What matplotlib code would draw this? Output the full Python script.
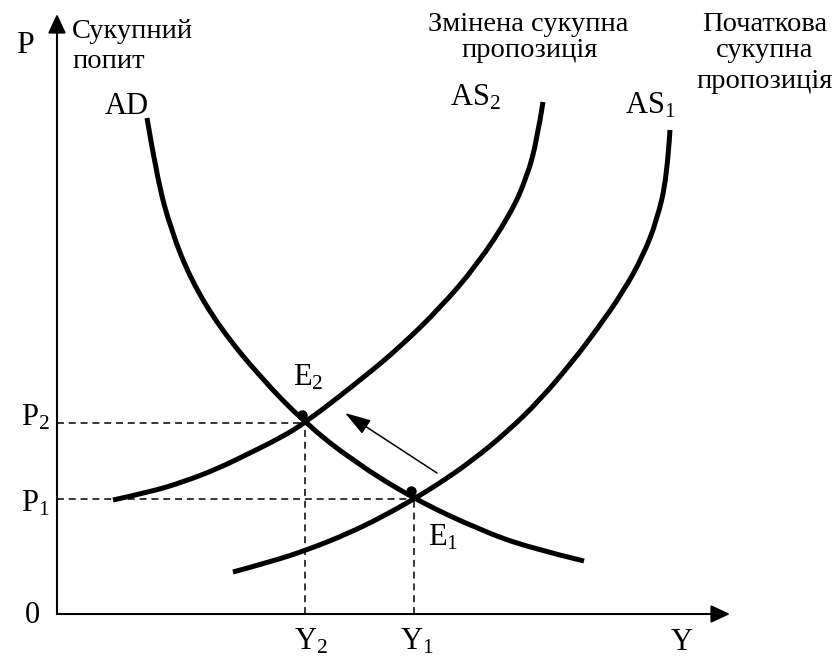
"""AD-AS diagram: a shift of aggregate supply to the left."""

import matplotlib.pyplot as plt
from matplotlib.patches import PathPatch
from matplotlib.path import Path
from matplotlib.transforms import ScaledTranslation

plt.rcParams["font.family"] = ["Liberation Serif", "DejaVu Serif"]
plt.rcParams["mathtext.fontset"] = "custom"
plt.rcParams["mathtext.rm"] = "Liberation Serif"
plt.rcParams["mathtext.it"] = "Liberation Serif:italic"
plt.rcParams["lines.scale_dashes"] = False

# curve points (output Y, price level P)
ad_y = [90, 100, 114, 134, 163, 204, 248, 296, 357, 423, 473, 527]
ad_p = [496, 436, 384, 334, 286, 236, 191, 153, 115, 84, 66, 53]

as2_y = [56, 93, 126, 160, 193, 223, 248, 306, 343, 383, 420, 453, 470, 480, 486]
as2_p = [114, 122, 132, 145, 161, 176, 191, 236, 267, 306, 349, 399, 437, 474, 512]

as1_y = [176, 213, 250, 290, 323, 357, 383, 416, 450, 483, 516, 541, 566, 586, 600, 610, 613]
as1_p = [42, 52, 64, 80, 96, 115, 131, 154, 182, 214, 253, 286, 322, 358, 394, 437, 484]

# equilibria: E1 (initial), E2 (after the shift)
eq_y = [357, 248]
eq_p = [115, 191]

# shift arrow, from near E1 towards E2
shift_from = (380, 141)
shift_to = (288, 201)

y_axis_top = 600
x_axis_end = 673


def smooth_path(xs, ys):
    """Quadratic Bezier path using the read points as control points."""
    pts = list(zip(xs, ys))
    verts = [pts[0]]
    codes = [Path.MOVETO]
    n = len(pts)
    for i in range(1, n - 1):
        if i < n - 2:
            end = ((pts[i][0] + pts[i + 1][0]) / 2, (pts[i][1] + pts[i + 1][1]) / 2)
        else:
            end = pts[-1]
        verts += [pts[i], end]
        codes += [Path.CURVE3, Path.CURVE3]
    return Path(verts, codes)


fig = plt.figure(figsize=(8.38, 6.57), dpi=100)
ax = fig.add_axes([0, 0, 1, 1])
ax.set_xlim(-57, 781)
ax.set_ylim(-43, 614)
ax.axis("off")

# axes with arrow heads
axis_style = "-|>,head_length=0.58,head_width=0.27"
ax.annotate("", xy=(0, y_axis_top), xytext=(0, 0),
            arrowprops=dict(arrowstyle=axis_style, color="black", lw=1.5,
                            mutation_scale=20, shrinkA=0, shrinkB=0))
ax.annotate("", xy=(x_axis_end, 0), xytext=(0, 0),
            arrowprops=dict(arrowstyle=axis_style, color="black", lw=1.5,
                            mutation_scale=20, shrinkA=0, shrinkB=0))

# dashed guides to the axes
for y, p in zip(eq_y, eq_p):
    ax.plot([0, y], [p, p], color="black", lw=1.1, dashes=(5, 3.5))
    ax.plot([y, y], [0, p], color="black", lw=1.1, dashes=(5, 3.5))

for xs, ys in [(ad_y, ad_p), (as2_y, as2_p), (as1_y, as1_p)]:
    ax.add_patch(PathPatch(smooth_path(xs, ys), fill=False, edgecolor="black",
                           lw=3.6, capstyle="butt", joinstyle="round"))

# equilibrium dots sit just above-left of the crossing
dot_shift = ScaledTranslation(-3 / 100, 8 / 100, fig.dpi_scale_trans)
ax.plot(eq_y, eq_p, "o", color="black", ms=6.5, transform=ax.transData + dot_shift)

ax.annotate("", xy=shift_to, xytext=shift_from,
            arrowprops=dict(arrowstyle="-|>,head_length=1.6,head_width=0.5",
                            color="black", lw=1.1, mutation_scale=10,
                            shrinkA=0, shrinkB=0))

big = 22
small = 20.5

ax.text(-32, 561, "P", fontsize=big + 1, ha="center", va="baseline")
ax.text(-25, -9, "0", fontsize=big, ha="center", va="baseline")
ax.text(625, -36, "Y", fontsize=big, ha="center", va="baseline")
ax.text(70, 500, "AD", fontsize=big, ha="center", va="baseline")
ax.text(418, 509, r"$\mathrm{AS}_2$", fontsize=big, ha="center", va="baseline")
ax.text(593, 501, r"$\mathrm{AS}_1$", fontsize=big, ha="center", va="baseline")

ax.text(-22, eq_p[1] - 3, r"$\mathrm{P}_2$", fontsize=big, ha="center", va="baseline")
ax.text(-22, eq_p[0] - 12, r"$\mathrm{P}_1$", fontsize=big, ha="center", va="baseline")
ax.text(eq_y[1] + 6, -36, r"$\mathrm{Y}_2$", fontsize=big, ha="center", va="baseline")
ax.text(eq_y[0] + 3, -36, r"$\mathrm{Y}_1$", fontsize=big, ha="center", va="baseline")
ax.text(eq_y[1] - 12, 229, r"$\mathrm{E}_2$", fontsize=big, ha="left", va="baseline")
ax.text(eq_y[0] + 14, 69, r"$\mathrm{E}_1$", fontsize=big, ha="left", va="baseline")

ax.text(15, 576, "Сукупний", fontsize=small, ha="left", va="baseline")
ax.text(15, 546, "попит", fontsize=small, ha="left", va="baseline")
ax.text(471, 583, "Змінена сукупна", fontsize=small, ha="center", va="baseline")
ax.text(473, 557, "пропозиція", fontsize=small, ha="center", va="baseline")
ax.text(708, 583, "Початкова", fontsize=small, ha="center", va="baseline")
ax.text(708, 557, "сукупна", fontsize=small, ha="center", va="baseline")
ax.text(708, 526, "пропозиція", fontsize=small, ha="center", va="baseline")

fig.savefig("out.png", dpi=100)
plt.close(fig)
